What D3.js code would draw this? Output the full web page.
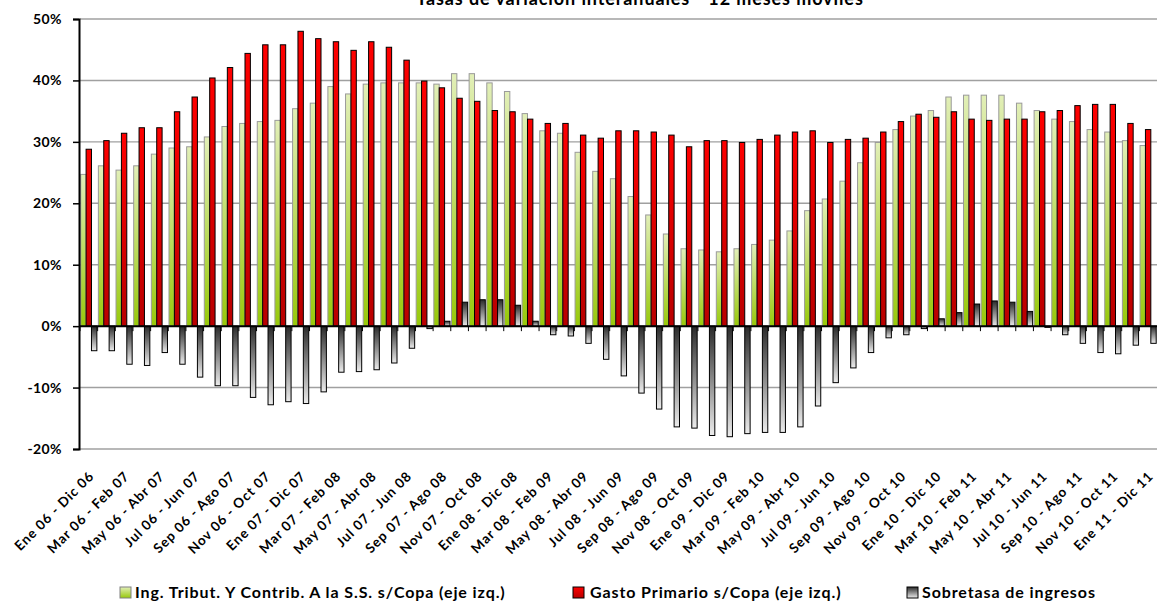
<!DOCTYPE html>
<html>
<head>
<meta charset="utf-8">
<script src="https://cdn.jsdelivr.net/npm/d3@7/dist/d3.min.js"></script>
<style>
  html, body { margin: 0; padding: 0; background: #fff; }
  svg { display: block; font-family: Lato, "Open Sans", "Liberation Sans", sans-serif; font-weight: 700; }
</style>
</head>
<body>
<svg id="chart" width="1157" height="603"></svg>
<script>
const categories = [
  "Ene 06 - Dic 06","Feb 06 - Ene 07","Mar 06 - Feb 07","Abr 06 - Mar 07","May 06 - Abr 07","Jun 06 - May 07",
  "Jul 06 - Jun 07","Ago 06 - Jul 07","Sep 06 - Ago 07","Oct 06 - Sep 07","Nov 06 - Oct 07","Dic 06 - Nov 07",
  "Ene 07 - Dic 07","Feb 07 - Ene 08","Mar 07 - Feb 08","Abr 07 - Mar 08","May 07 - Abr 08","Jun 07 - May 08",
  "Jul 07 - Jun 08","Ago 07 - Jul 08","Sep 07 - Ago 08","Oct 07 - Sep 08","Nov 07 - Oct 08","Dic 07 - Nov 08",
  "Ene 08 - Dic 08","Feb 08 - Ene 09","Mar 08 - Feb 09","Abr 08 - Mar 09","May 08 - Abr 09","Jun 08 - May 09",
  "Jul 08 - Jun 09","Ago 08 - Jul 09","Sep 08 - Ago 09","Oct 08 - Sep 09","Nov 08 - Oct 09","Dic 08 - Nov 09",
  "Ene 09 - Dic 09","Feb 09 - Ene 10","Mar 09 - Feb 10","Abr 09 - Mar 10","May 09 - Abr 10","Jun 09 - May 10",
  "Jul 09 - Jun 10","Ago 09 - Jul 10","Sep 09 - Ago 10","Oct 09 - Sep 10","Nov 09 - Oct 10","Dic 09 - Nov 10",
  "Ene 10 - Dic 10","Feb 10 - Ene 11","Mar 10 - Feb 11","Abr 10 - Mar 11","May 10 - Abr 11","Jun 10 - May 11",
  "Jul 10 - Jun 11","Ago 10 - Jul 11","Sep 10 - Ago 11","Oct 10 - Sep 11","Nov 10 - Oct 11","Dic 10 - Nov 11",
  "Ene 11 - Dic 11"
];

// Ing. Tribut. Y Contrib. A la S.S. s/Copa (%)
const ingresos = [24.7, 26.1, 25.4, 26.1, 28.0, 29.0, 29.2, 30.8, 32.5, 33.0,
  33.3, 33.5, 35.4, 36.3, 39.0, 37.8, 39.4, 39.6, 39.6, 39.6,
  39.4, 41.1, 41.1, 39.6, 38.2, 34.6, 31.8, 31.4, 28.3, 25.2,
  24.0, 21.1, 18.1, 15.0, 12.6, 12.4, 12.1, 12.6, 13.3, 14.0,
  15.5, 18.8, 20.7, 23.6, 26.6, 29.9, 32.0, 34.2, 35.1, 37.3,
  37.6, 37.6, 37.6, 36.3, 35.1, 33.7, 33.3, 32.0, 31.6, 30.2, 29.4];

// Gasto Primario s/Copa (%)
const gasto = [28.8, 30.2, 31.4, 32.3, 32.3, 34.9, 37.3, 40.4, 42.1, 44.4,
  45.8, 45.8, 48.0, 46.8, 46.3, 44.9, 46.3, 45.4, 43.3, 39.9,
  38.8, 37.1, 36.6, 35.1, 34.9, 33.7, 33.0, 33.0, 31.1, 30.6,
  31.8, 31.8, 31.6, 31.1, 29.2, 30.2, 30.2, 29.9, 30.4, 31.1,
  31.6, 31.8, 29.9, 30.4, 30.6, 31.6, 33.3, 34.5, 34.0, 34.9,
  33.7, 33.5, 33.7, 33.7, 34.9, 35.1, 35.9, 36.1, 36.1, 33.0, 32.0];

// Sobretasa de ingresos (%)
const sobretasa = [-4.0, -4.0, -6.2, -6.4, -4.3, -6.2, -8.3, -9.7, -9.7, -11.6,
  -12.8, -12.3, -12.6, -10.7, -7.5, -7.4, -7.1, -6.0, -3.6, -0.4,
  0.8, 3.9, 4.3, 4.3, 3.4, 0.8, -1.4, -1.6, -2.8, -5.4,
  -8.1, -10.9, -13.5, -16.4, -16.6, -17.8, -18.0, -17.5, -17.3, -17.3,
  -16.4, -13.0, -9.2, -6.8, -4.3, -1.9, -1.4, -0.4, 1.2, 2.2,
  3.6, 4.1, 3.9, 2.4, -0.2, -1.4, -2.8, -4.3, -4.5, -3.1, -2.8];

const seriesNames = [
  "Ing. Tribut. Y Contrib. A la S.S. s/Copa (eje izq.)",
  "Gasto Primario s/Copa (eje izq.)",
  "Sobretasa de ingresos"
];
const yTicks = [-20, -10, 0, 10, 20, 30, 40, 50];
const title = "Tasas de variación interanuales - 12 meses móviles";

const svg = d3.select("#chart");
const defs = svg.append("defs");
function grad(id, c0, c1) {
  const g = defs.append("linearGradient").attr("id", id)
    .attr("x1", 0).attr("y1", 0).attr("x2", 0).attr("y2", 1);
  g.append("stop").attr("offset", "0%").attr("stop-color", c0);
  g.append("stop").attr("offset", "100%").attr("stop-color", c1);
}
grad("gGreen", "#e2efb8", "#97c90a");
grad("gRed", "#ff0000", "#b80000");
grad("gGray", "#2a2a2a", "#ececec");

const series = [
  { key: "ing", values: ingresos, fill: "url(#gGreen)", stroke: "#9a9a9a" },
  { key: "gas", values: gasto, fill: "url(#gRed)", stroke: "#000" },
  { key: "sob", values: sobretasa, fill: "url(#gGray)", stroke: "#000" }
];

const plotL = 80, plotR = 1157, plotT = 19, plotB = 449;
const x = d3.scaleBand().domain(categories).range([plotL, plotR]).padding(0);
const bw = x.bandwidth();
const x1 = d3.scaleBand().domain(series.map(s => s.key)).range([0.04 * bw, 0.955 * bw]).padding(0);
const y = d3.scaleLinear().domain([-20, 50]).range([plotB, plotT]);

// gridlines
svg.append("g").selectAll("line").data(yTicks.filter(t => t !== 0)).join("line")
  .attr("x1", plotL).attr("x2", plotR + 5)
  .attr("y1", d => y(d)).attr("y2", d => y(d))
  .attr("stroke", "#a0a0a0").attr("stroke-width", 1.4);

// bars
const gBars = svg.append("g");
series.forEach(s => {
  gBars.append("g").selectAll("rect").data(s.values).join("rect")
    .attr("x", (d, i) => x(categories[i]) + x1(s.key))
    .attr("width", x1.bandwidth())
    .attr("y", d => y(Math.max(0, d)))
    .attr("height", d => Math.abs(y(d) - y(0)))
    .attr("fill", s.fill)
    .attr("stroke", s.stroke)
    .attr("stroke-width", 1);
});

// zero axis line + category ticks
svg.append("line").attr("x1", plotL).attr("x2", plotR + 5)
  .attr("y1", y(0)).attr("y2", y(0)).attr("stroke", "#000").attr("stroke-width", 2);
svg.append("g").selectAll("line").data(categories).join("line")
  .attr("x1", d => x(d)).attr("x2", d => x(d))
  .attr("y1", y(0)).attr("y2", y(0) + 5)
  .attr("stroke", "#000").attr("stroke-width", 1);

// left axis
const yAxis = d3.axisLeft(y).tickValues(yTicks).tickSize(6).tickFormat(d => d + "%");
const gy = svg.append("g").attr("transform", `translate(${plotL - 1},0)`).call(yAxis);
gy.select(".domain").attr("stroke", "#000").attr("stroke-width", 2);
gy.selectAll(".tick line").attr("stroke", "#000").attr("stroke-width", 1.5);
gy.selectAll(".tick text").attr("x", -17).attr("font-size", 14).attr("font-weight", 700)
  .attr("letter-spacing", 0.4)
  .attr("font-family", "Lato, sans-serif").attr("fill", "#000");

// x labels (every other category)
const tickLabels = categories.filter((d, i) => i % 2 === 0);
svg.append("g").selectAll("text").data(tickLabels).join("text")
  .attr("transform", d => `translate(${x(d) + bw / 2 + 6},${plotB + 28}) rotate(-45)`)
  .attr("text-anchor", "end")
  .attr("font-size", 13.5)
  .attr("letter-spacing", 0.9)
  .attr("fill", "#000")
  .text(d => d);

// title
svg.append("text").attr("x", 640).attr("y", 5).attr("text-anchor", "middle")
  .attr("font-size", 18).attr("letter-spacing", 0.9).attr("fill", "#000").text(title);

// legend
const legendX = [{ sq: 120, tx: 135 }, { sq: 573, tx: 590 }, { sq: 907, tx: 922 }];
const lg = svg.append("g");
series.forEach((s, i) => {
  lg.append("rect").attr("x", legendX[i].sq).attr("y", 587).attr("width", 11).attr("height", 11)
    .attr("fill", s.fill).attr("stroke", i === 0 ? "#808080" : "#000").attr("stroke-width", 1);
  lg.append("text").attr("x", legendX[i].tx).attr("y", 598).attr("font-size", 16)
    .attr("letter-spacing", 0.9)
    .attr("fill", "#000").text(seriesNames[i]);
});
</script>
</body>
</html>
